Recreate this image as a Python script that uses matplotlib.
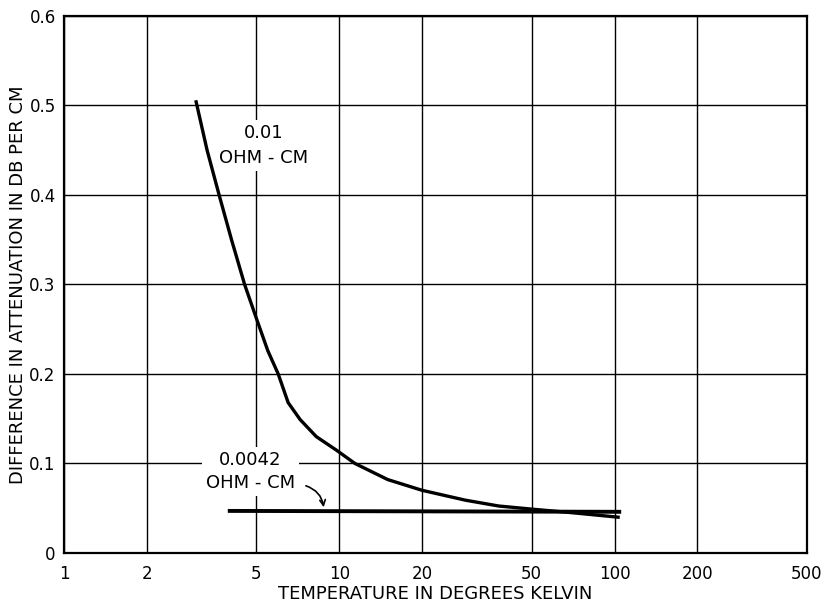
import matplotlib
matplotlib.use("Agg")
import matplotlib.pyplot as plt

# 0.01 ohm-cm curve
temp_a = [3.02, 3.31, 3.66, 4.06, 4.53, 5.0, 5.5, 6.0, 6.52, 7.21, 8.25, 9.75, 11.4,
          15.0, 20, 28.7, 37.9, 50, 70, 103]
diff_a = [0.504, 0.45, 0.40, 0.35, 0.30, 0.262, 0.226, 0.20, 0.168, 0.149, 0.130, 0.115,
          0.100, 0.082, 0.070, 0.059, 0.0525, 0.049, 0.045, 0.040]

# 0.0042 ohm-cm line
temp_b = [4.0, 104]
diff_b = [0.047, 0.046]

x_ticks = [1, 2, 5, 10, 20, 50, 100, 200, 500]
y_ticks = [0, 0.1, 0.2, 0.3, 0.4, 0.5, 0.6]
y_labels = ["0", "0.1", "0.2", "0.3", "0.4", "0.5", "0.6"]

plt.rcParams["font.family"] = "DejaVu Sans"

fig = plt.figure(figsize=(8.28, 6.07), dpi=100)
ax = fig.add_axes([0.0773, 0.089, 0.8973, 0.8847])

ax.set_xscale("log")
ax.set_xlim(1, 500)
ax.set_ylim(0, 0.6)
ax.set_xticks(x_ticks)
ax.set_xticklabels([str(t) for t in x_ticks])
ax.minorticks_off()
ax.set_yticks(y_ticks)
ax.set_yticklabels(y_labels)
ax.tick_params(length=0, labelsize=12, colors="black")
ax.tick_params(axis="x", pad=9)
ax.tick_params(axis="y", pad=6)
ax.grid(True, color="black", linewidth=1.0)
ax.set_axisbelow(True)
for s in ax.spines.values():
    s.set_linewidth(1.6)

ax.plot(temp_a, diff_a, color="black", linewidth=2.4, zorder=3)
ax.plot(temp_b, diff_b, color="black", linewidth=2.8, zorder=3)

# labels with white backing so they break the grid lines
box = dict(facecolor="white", edgecolor="none", pad=3)
ax.text(5.3, 0.455, "0.01\nOHM - CM", ha="center", va="center", fontsize=13,
        linespacing=1.5, bbox=box, zorder=4)
ax.text(4.75, 0.091, "0.0042\nOHM - CM", ha="center", va="center", fontsize=13,
        linespacing=1.3, bbox=box, zorder=4)
ax.annotate("", xy=(8.8, 0.048), xytext=(7.4, 0.076),
            arrowprops=dict(arrowstyle="->", color="black", lw=1.2,
                            connectionstyle="arc3,rad=-0.35"), zorder=4)

ax.set_xlabel("TEMPERATURE IN DEGREES KELVIN", fontsize=13, labelpad=1)
ax.set_ylabel("DIFFERENCE IN ATTENUATION IN DB PER CM", fontsize=13, labelpad=2)

fig.savefig("out.png", dpi=100)
